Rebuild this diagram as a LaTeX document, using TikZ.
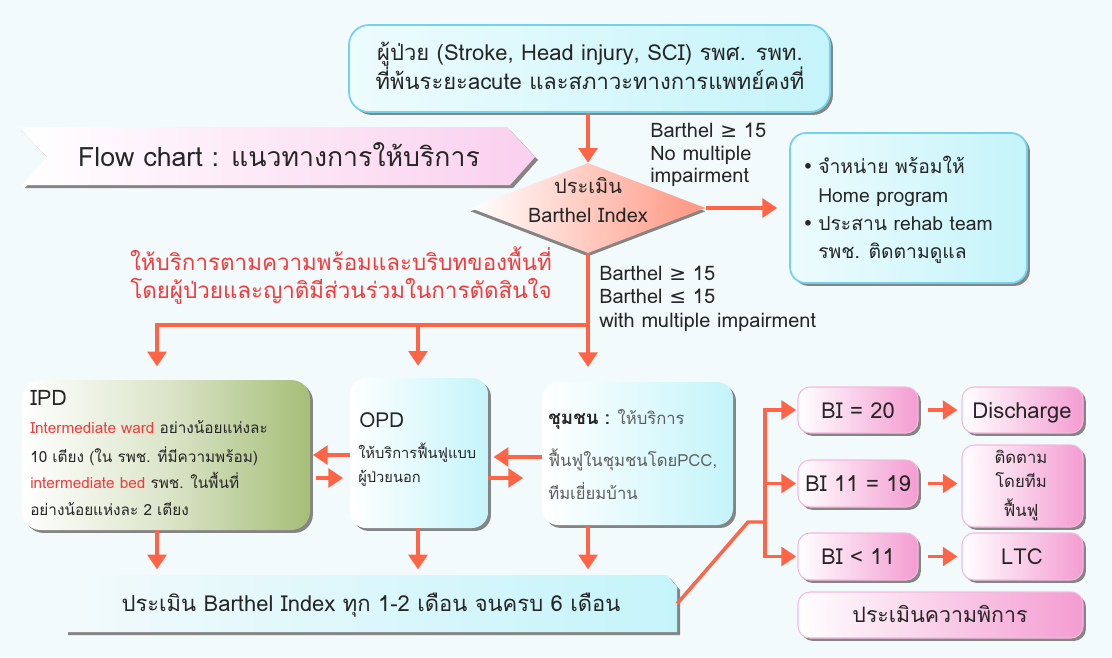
\documentclass[tikz,border=0pt]{standalone}
\usepackage{fontspec}
\setmainfont[Script=Thai]{Loma}
\newfontfamily\symf{DejaVu Sans}
\usetikzlibrary{arrows.meta,shapes.geometric,shadows,fit,calc}
\definecolor{bgc}{HTML}{F3FAFC}
\definecolor{arrc}{HTML}{FF6447}
\definecolor{redt}{HTML}{F23C3C}
\definecolor{txt}{HTML}{262626}
\definecolor{grayt}{HTML}{5E5E5E}
\definecolor{cyanb}{HTML}{72D2EC}
\definecolor{cyanf}{HTML}{C4F4FA}
\definecolor{pinkf}{HTML}{F49CD2}
\definecolor{pinkb}{HTML}{F4B8DE}
\definecolor{olivef}{HTML}{A6BE78}
\definecolor{salmonf}{HTML}{FF9580}
\definecolor{bannerf}{HTML}{FAD0EE}
\definecolor{shadc}{HTML}{858585}
\newcommand\fsz[2]{\fontsize{#1}{#2}\selectfont}
\newcommand\sgeq{{\symf ≥}}
\newcommand\sleq{{\symf ≤}}
\newcommand\bul{{\symf •}}
\begin{document}
\begin{tikzpicture}[x=0.75pt,y=-0.75pt,
  every node/.style={text=txt},
  shad/.style={drop shadow={shadow xshift=2.2pt,shadow yshift=-2.2pt,fill=shadc,opacity=1}},
  cbox/.style={draw=cyanb,line width=1.3pt,left color=cyanf!30!white,right color=cyanf,rounded corners=12pt,inner sep=0,shad},
  obox/.style={left color=white,right color=cyanf,rounded corners=12pt,inner sep=0,shad},
  pbox/.style={draw=pinkb,line width=0.8pt,left color=white,right color=pinkf,rounded corners=9pt,inner sep=0,shad},
  arr/.style={draw=arrc,line width=2.6pt,-{Triangle[width=14pt,length=11pt]}},
  lnk/.style={draw=arrc,line width=2.6pt},
  tl/.style={anchor=base west,inner sep=0},
  tc/.style={anchor=base,inner sep=0},
  bt/.style={anchor=base,inner sep=0,font=\fsz{16.5}{19}}
]
\fill[bgc] (0,0) rectangle (1112,657);
\useasboundingbox (0,0) rectangle (1112,657);

% top box
\node[cbox, rounded corners=15pt, fit={(349,25) (830,112)}] (top) {};
\node[tc, font=\fsz{16.5}{20}] (topT1) at (590,60) {ผู้ป่วย (Stroke, Head injury, SCI) รพศ. รพท.};
\node[tc, font=\fsz{16.5}{20}] (topT2) at (590,89) {ที่พ้นระยะacute และสภาวะทางการแพทย์คงที่};

% banner
\fill[shadc] (21,130) -- (510,130) -- (538,160) -- (513,188) -- (25,188) -- (50,160) -- cycle;
\shade[left color=white, right color=bannerf] (18,127) -- (507,127) -- (535,157) -- (510,185) -- (22,185) -- (47,157) -- cycle;
\node[tc, font=\fsz{20}{23}] (banner) at (279,166) {Flow chart : แนวทางการให้บริการ};

% diamond
\node[diamond, minimum width=176.25pt, minimum height=67.5pt, inner sep=0, left color=white, right color=salmonf,
  drop shadow={shadow xshift=0pt,shadow yshift=-2.5pt,fill=shadc,opacity=1}] (dia) at (588,208) {};
\node[tc, font=\fsz{15}{18}] (diaT1) at (588,193) {ประเมิน};
\node[tc, font=\fsz{15}{18}] (diaT2) at (588,222) {Barthel Index};
\draw[arr] (top.south -| dia.north) -- (dia.north);

% right box
\node[cbox, fit={(790,133) (1027,283)}] (rbox) {};
\draw[arr, shorten >=9pt] (dia.east) -- (rbox.west);
\node[tl, font=\fsz{14.5}{17}] (rb1b) at (802,173) {\bul};
\node[tl, font=\fsz{14.5}{17}] (rb1) at (818,173) {จำหน่าย พร้อมให้};
\node[tl, font=\fsz{14.5}{17}] (rb2) at (818,202) {Home program};
\node[tl, font=\fsz{14.5}{17}] (rb3b) at (802,230) {\bul};
\node[tl, font=\fsz{14.5}{17}] (rb3) at (818,230) {ประสาน rehab team};
\node[tl, font=\fsz{14.5}{17}] (rb4) at (818,258) {รพช. ติดตามดูแล};

% labels
\node[tl, font=\fsz{15}{17}] (lb1) at (650,137) {Barthel \sgeq{} 15};
\node[tl, font=\fsz{15}{17}] (lb2) at (650,160) {No multiple};
\node[tl, font=\fsz{15}{17}] (lb3) at (650,182) {impairment};
\node[tl, font=\fsz{15}{17}] (lb4) at (599,280) {Barthel \sgeq{} 15};
\node[tl, font=\fsz{15}{17}] (lb5) at (599,303) {Barthel \sleq{} 15};
\node[tl, font=\fsz{15}{17}] (lb6) at (599,327) {with multiple impairment};

% red text
\node[tc, font=\fsz{16.8}{20}, text=redt] (red1) at (341,270) {ให้บริการตามความพร้อมและบริบทของพื้นที่};
\node[tc, font=\fsz{16.8}{20}, text=redt] (red2) at (341,298) {โดยผู้ป่วยและญาติมีส่วนร่วมในการตัดสินใจ};

% IPD
\node[fit={(22,380) (310,530)}, inner sep=0, rounded corners=14pt, left color=white, right color=olivef, middle color=olivef!40!white, shad] (ipd) {};
\node[tl, font=\fsz{16}{18}] (ipdT) at (30,405) {IPD};
\node[tl, font=\fsz{11.5}{13}] (ipd1) at (30,433) {\textcolor{redt}{Intermediate ward} อย่างน้อยแห่งละ};
\node[tl, font=\fsz{11.5}{13}] (ipd2) at (30,462) {10 เตียง (ใน รพช. ที่มีความพร้อม)};
\node[tl, font=\fsz{11.5}{13}] (ipd3) at (30,488) {\textcolor{redt}{intermediate bed} รพช. ในพื้นที่};
\node[tl, font=\fsz{11.5}{13}] (ipd4) at (30,515) {อย่างน้อยแห่งละ 2 เตียง};

% OPD
\node[obox, fit={(350,378) (488,528)}] (opd) {};
\node[tl, font=\fsz{15.5}{17}] (opdT) at (359,427) {OPD};
\node[tl, font=\fsz{11}{13}] (opd1) at (358,458) {ให้บริการฟื้นฟูแบบ};
\node[tl, font=\fsz{11}{13}] (opd2) at (358,482) {ผู้ป่วยนอก};

% community
\node[obox, fit={(542,382) (733,525)}] (chum) {};
\node[tl, font=\fsz{12.5}{15}] (ch1) at (548,424) {{\fsz{14}{16}\textbf{ชุมชน :}} \textcolor{grayt}{ให้บริการ}};
\node[tl, font=\fsz{12.5}{15}, text=grayt] (ch2) at (548,466) {ฟื้นฟูในชุมชนโดยPCC,};
\node[tl, font=\fsz{12.5}{15}, text=grayt] (ch3) at (548,499) {ทีมเยี่ยมบ้าน};

% distribution from diamond
\coordinate (jr) at (588,325);
\coordinate (jl) at (157,325);
\coordinate (jm) at (418,325);
\draw[arr, shorten >=11pt] (dia.south) -- (dia.south |- chum.north);
\draw[arr, shorten >=10pt] (jr) -| (jl |- ipd.north);
\draw[arr, shorten >=9pt] (jm) -- (jm |- opd.north);

% side arrows
\coordinate (ya) at (0,455);
\coordinate (yb) at (0,478);
\coordinate (yc) at (0,457);
\draw[arr, shorten >=2pt] (opd.west |- ya) -- (ipd.east |- ya);
\draw[arr, shorten <=4pt, shorten >=5pt] (ipd.east |- yb) -- (opd.west |- yb);
\draw[arr, shorten >=4pt] (chum.west |- yc) -- (opd.east |- yc);
\draw[arr, shorten >=14pt] (opd.east |- yb) -- (chum.west |- yb);

% bottom box
\fill[shadc] (68,578) -- (670,578) -- (680,590) -- (680,635) -- (68,635) -- cycle;
\shade[left color=bgc, right color=cyanf] (65,575) -- (667,575) -- (677,587) -- (677,632) -- (65,632) -- cycle;
\node[fit={(65,575) (677,632)}, inner sep=0] (bot) {};
\node[bt] (botT) at (371,611) {ประเมิน Barthel Index ทุก 1-2 เดือน จนครบ 6 เดือน};
\draw[arr, shorten >=4pt] (jl |- ipd.south) -- (jl |- bot.north);
\draw[arr, shorten >=4pt] (jm |- opd.south) -- (jm |- bot.north);
\draw[arr, shorten >=4pt] (jr |- chum.south) -- (jr |- bot.north);

% BI boxes
\node[pbox, fit={(798,387) (918,433)}] (bi1) {};
\node[pbox, fit={(798,460) (918,507)}] (bi2) {};
\node[pbox, fit={(798,533) (918,580)}] (bi3) {};
\node[pbox, fit={(962,387) (1083,433)}] (r1) {};
\node[pbox, fit={(962,445) (1083,527)}] (r2) {};
\node[pbox, fit={(962,533) (1083,580)}] (r3) {};
\node[pbox, fit={(798,592) (1083,638)}] (r4) {};
\node[bt] (bi1T) at (858,418) {BI = 20};
\node[bt] (bi2T) at (858,491) {BI 11 = 19};
\node[bt] (bi3T) at (858,564) {BI < 11};
\node[bt] (r1T) at (1022,418) {Discharge};
\node[bt] (r3T) at (1022,564) {LTC};
\node[bt, font=\fsz{16}{19}] (r4T) at (940,622) {ประเมินความพิการ};
\node[tc, font=\fsz{12.5}{15}] (r2a) at (1021,463) {ติดตาม};
\node[tc, font=\fsz{12.5}{15}] (r2b) at (1021,487) {โดยทีม};
\node[tc, font=\fsz{12.5}{15}] (r2c) at (1021,516) {ฟื้นฟู};

\coordinate (dg) at (748,522);
\coordinate (vx) at (765,522);
\draw[lnk, line join=round] (bot.east) -- (dg) -- (vx);
\draw[arr, shorten >=1pt] (vx) |- (bi1.west);
\draw[arr, shorten >=1pt] (vx) |- (bi3.west);
\draw[arr, shorten >=1pt] (vx |- bi2.west) -- (bi2.west);
\draw[arr, shorten <=7pt, shorten >=3pt] (bi1.east) -- (r1.west);
\draw[arr, shorten <=7pt, shorten >=3pt] (bi2.east) -- (bi2.east -| r2.west);
\draw[arr, shorten <=7pt, shorten >=3pt] (bi3.east) -- (r3.west);
\end{tikzpicture}
\end{document}
